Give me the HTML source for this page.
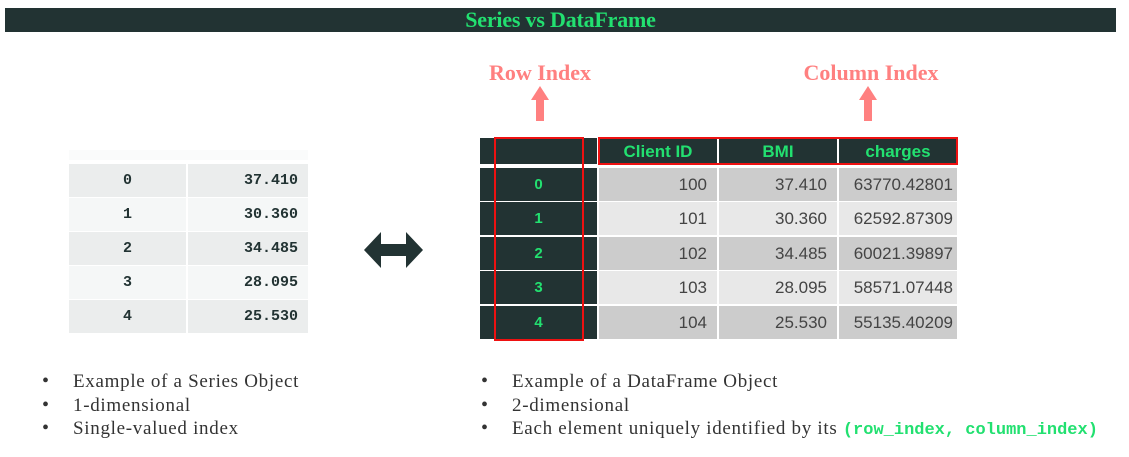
<!DOCTYPE html>
<html><head><meta charset="utf-8"><style>
body{margin:0;width:1129px;height:457px;background:#fff;position:relative;overflow:hidden;font-family:"Liberation Serif",serif}
.a{position:absolute}
.bar{left:5px;top:8px;width:1111px;height:24px;background:#223333;color:#22e070;font-weight:bold;font-size:22px;text-align:center;line-height:24px;letter-spacing:-0.2px}
.lbl{color:#ff8080;font-weight:bold;font-size:22px;text-align:center;width:200px}
.sc{position:absolute;font-family:"Liberation Mono",monospace;font-weight:bold;font-size:15px;color:#223333;line-height:33px}
.dc{position:absolute;font-family:"Liberation Sans",sans-serif;font-size:17px;color:#444;line-height:33px;text-align:right;box-sizing:border-box;padding-right:10px}
.ic{position:absolute;background:#223333;color:#22e070;font-family:"Liberation Sans",sans-serif;font-weight:bold;font-size:15px;text-align:center;line-height:33px}
.hd{position:absolute;background:#223333;color:#22e070;font-family:"Liberation Sans",sans-serif;font-weight:bold;font-size:17px;text-align:center;line-height:28px;top:138px;height:26px}
ul{position:absolute;margin:0;padding:0;list-style:none;font-size:19px;color:#333;line-height:23.5px;letter-spacing:0.7px}
li::before{content:"•";position:absolute;margin-left:-31px;font-size:20px}
</style></head><body>
<div class="a bar">Series vs DataFrame</div>
<div class="a lbl" style="left:440px;top:60px">Row Index</div>
<div class="a lbl" style="left:771px;top:60px">Column Index</div>
<svg class="a" style="left:0;top:0" width="1129" height="457">
<polygon points="540,86 549,100 544,100 544,121 536,121 536,100 531,100" fill="#ff8080"/>
<polygon points="868,86 877,100 872,100 872,121 864,121 864,100 859,100" fill="#ff8080"/>
<polygon points="364,250 381,232 381,244 406,244 406,232 423,250 406,268 406,256 381,256 381,268" fill="#223333"/>
</svg>
<div class="a" style="left:69px;top:150px;width:239px;height:10px;background:#fafbfb"></div>
<div id="series"></div>
<div class="a" style="left:480px;top:138px;width:117px;height:26px;background:#223333"></div>
<div class="hd" style="left:599px;width:118px">Client ID</div>
<div class="hd" style="left:719px;width:118px">BMI</div>
<div class="hd" style="left:839px;width:118px">charges</div>
<div id="df"></div>
<div class="a" style="left:494px;top:137px;width:86px;height:200px;border:2.5px solid #ee1111"></div>
<div class="a" style="left:598px;top:137px;width:356px;height:24px;border:2.5px solid #ee1111"></div>
<ul style="left:73px;top:370px">
<li>Example of a Series Object</li>
<li>1-dimensional</li>
<li>Single-valued index</li></ul>
<ul style="left:512px;top:370px">
<li>Example of a DataFrame Object</li>
<li>2-dimensional</li>
<li>Each element uniquely identified by its <span style="font-family:'Liberation Mono',monospace;font-weight:bold;color:#22e070;font-size:17px;letter-spacing:0">(row_index, column_index)</span></li></ul>
<script>
const idx=["0","1","2","3","4"];
const clientIds=["100","101","102","103","104"];
const bmi=["37.410","30.360","34.485","28.095","25.530"];
const charges=["63770.42801","62592.87309","60021.39897","58571.07448","55135.40209"];
const s=document.getElementById('series'),d=document.getElementById('df');
function mk(p,cls,x,y,w,h,bg,txt,name,extra){const e=document.createElement('div');e.className=cls;e.style.cssText=`left:${x}px;top:${y}px;width:${w}px;height:${h}px;background:${bg};${extra||''}`;e.textContent=txt;


p.appendChild(e);}
idx.forEach((v,i)=>{
 const y=164+i*34, bg=i%2?'#f5f7f7':'#ebeded';
 mk(s,'sc',69,y,117,33,bg,v,'series-index-'+i,'text-align:center');
 mk(s,'sc',188,y,120,33,bg,bmi[i],'series-value-'+i,'text-align:right;padding-right:10px;box-sizing:border-box');
 const y2=168+i*34.4, bg2=i%2?'#e8e8e8':'#cccccc';
 mk(d,'ic',480,y2,117,33,'#223333',v,'df-index-'+i);
 mk(d,'dc',599,y2,118,33,bg2,clientIds[i],'df-client-id-'+i);
 mk(d,'dc',719,y2,118,33,bg2,bmi[i],'df-bmi-'+i);
 mk(d,'dc',839,y2,118,33,bg2,charges[i],'df-charges-'+i,'padding-right:4px');
});
</script>
</body></html>
